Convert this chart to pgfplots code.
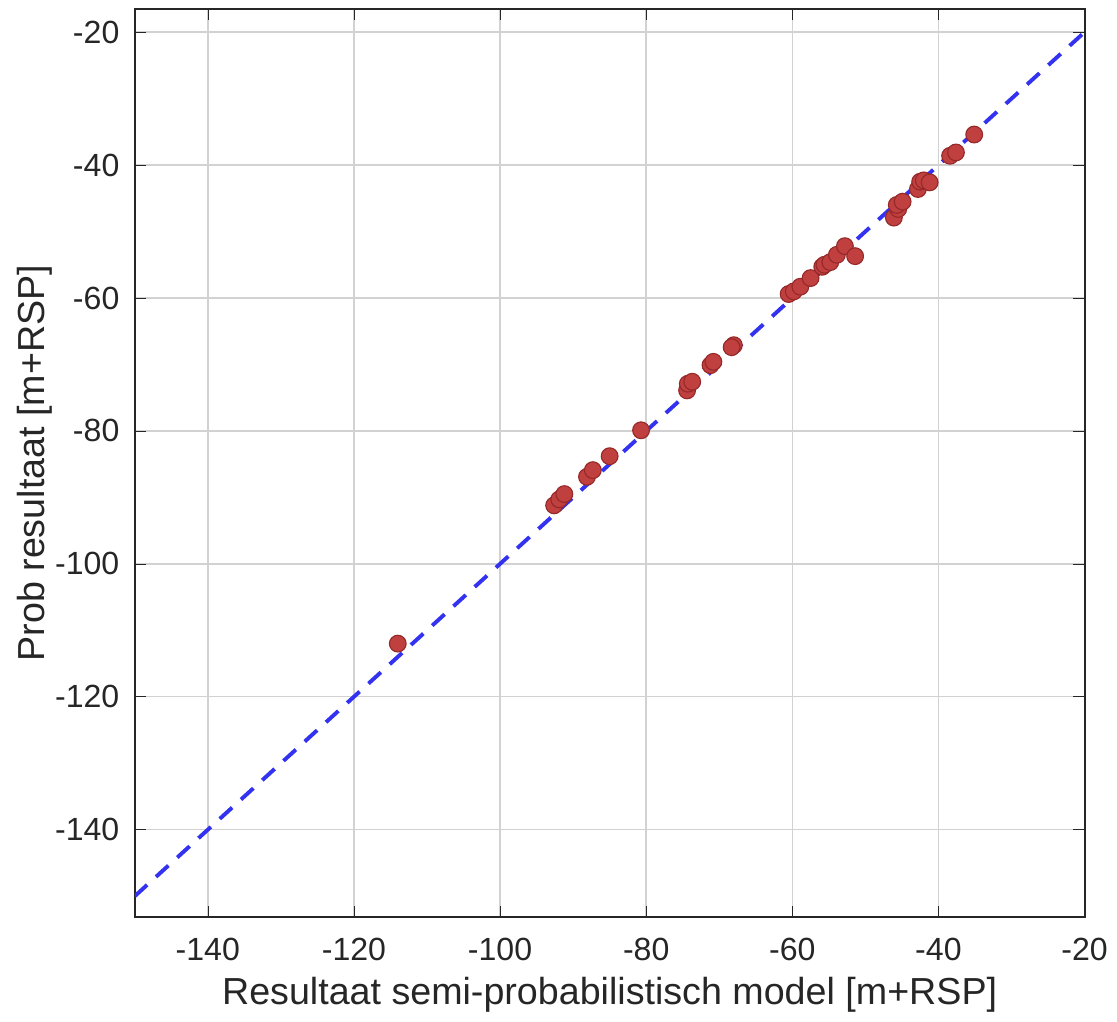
\documentclass[border=0pt]{standalone}
\usepackage{pgfplots}
\pgfplotsset{compat=1.18}
\usepackage{fontspec}
\setmainfont{Liberation Sans}
\definecolor{axgray}{RGB}{38,38,38}
\definecolor{dotred}{RGB}{192,64,64}
\definecolor{dotedge}{RGB}{150,40,40}
\definecolor{lineblue}{RGB}{50,50,240}

\begin{document}
\begin{tikzpicture}
\begin{axis}[
  name=ax,
  scale only axis,
  width=340.6pt, height=325.8pt,
  xmin=-150, xmax=-20,
  ymin=-153.2, ymax=-16.5,
  xtick={-140,-120,-100,-80,-60,-40,-20},
  ytick={-140,-120,-100,-80,-60,-40,-20},
  tick align=inside,
  major tick length=4pt,
  xmajorgrids, ymajorgrids,
  grid style={gray!35, line width=0.5pt},
  axis line style={axgray, line width=0.7pt},
  tick style={axgray},
  every tick label/.append style={font=\fontsize{11.5}{13}\selectfont, text=axgray},
  /pgf/number format/assume math mode=true,
  xlabel={Resultaat semi-probabilistisch model [m+RSP]},
  ylabel={Prob resultaat [m+RSP]},
  label style={font=\fontsize{13.5}{16}\selectfont, text=axgray},
  xticklabel style={yshift=-4pt},
  yticklabel style={xshift=-2pt},
  xlabel style={yshift=1pt},
  ylabel style={yshift=-6pt},
]
\addplot[lineblue, line width=1.4pt, dash pattern=on 6pt off 4.3pt] coordinates {
  (-150,-150) (-20,-20)
};
\addplot[only marks, mark=*, mark size=3pt,
  mark options={fill=dotred, draw=dotedge, line width=0.4pt}] coordinates {
  (-114.0,-112.0)
  (-92.6,-91.2) (-91.9,-90.3) (-91.2,-89.5)
  (-88.1,-86.9) (-87.3,-85.9) (-85.0,-83.8) (-80.7,-79.9)
  (-74.4,-73.9) (-74.3,-72.9) (-73.7,-72.6)
  (-71.2,-70.1) (-70.8,-69.6) (-68.0,-67.1) (-68.3,-67.4)
  (-60.5,-59.4) (-59.8,-59.0) (-58.9,-58.3) (-57.5,-57.0)
  (-55.9,-55.3) (-55.6,-55.0) (-54.8,-54.6) (-53.9,-53.5)
  (-52.8,-52.2) (-51.4,-53.7)
  (-46.1,-47.9) (-45.5,-46.6) (-45.7,-46.0) (-44.9,-45.5)
  (-42.8,-43.6) (-42.5,-42.5) (-42.0,-42.3) (-41.2,-42.6)
  (-38.4,-38.6) (-37.6,-38.1) (-35.1,-35.4)
};
\end{axis}
\path ([yshift=3.2pt]ax.north);
\path ([xshift=-3pt]current bounding box.west);
\end{tikzpicture}
\end{document}
